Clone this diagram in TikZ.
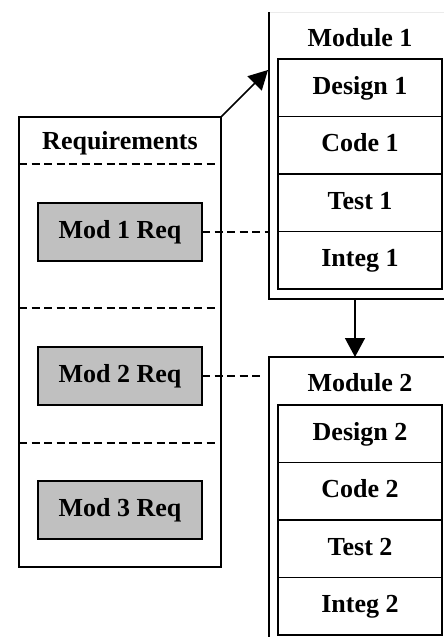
\documentclass[tikz,border=0pt]{standalone}
\usepackage{fontspec}
\setmainfont{Liberation Serif}
\usetikzlibrary{positioning,arrows.meta}
\definecolor{reqgray}{RGB}{192,192,192}
\tikzset{
  line/.style={-{Triangle[length=19pt,width=20pt]}, line width=1.5pt},
  frame/.style={draw, line width=1.5pt, outer sep=0pt, inner sep=0pt},
  box/.style={draw, line width=1.5pt, outer sep=0pt, align=center, text height=18pt, text depth=5pt, font=\fontsize{26}{30}\selectfont\bfseries},
  reqbox/.style={box, fill=reqgray, minimum width=164pt, minimum height=58pt},
  stepbox/.style={box, minimum width=164pt, minimum height=57.5pt},
  title/.style={font=\fontsize{26}{30}\selectfont\bfseries, inner sep=0pt},
  sep/.style={dash pattern=on 8pt off 4.5pt, line width=1.5pt}
}

\begin{document}
\begin{tikzpicture}[x=1pt, y=-1pt]
  \useasboundingbox (0,0) rectangle (444,637);
  \clip (0,0) rectangle (444,637);
  % requirements
  \node[frame, minimum width=202pt, minimum height=450pt, anchor=north west] (req) at (19,117) {};
  \node[title] (reqt) at (120,143) {Requirements};
  \draw[sep] (19,164) -- (217,164);
  \draw[sep] (19,308) -- (217,308);
  \draw[sep] (19,443) -- (217,443);
  \node[reqbox] (r1) at (120,232) {Mod 1 Req};
  \node[reqbox] (r2) at (120,376) {Mod 2 Req};
  \node[reqbox] (r3) at (120,510) {Mod 3 Req};
  % module 1
  \node[frame, draw=none, minimum width=182pt, minimum height=287pt, anchor=north west] (m1) at (269,12) {};
  \draw[black!8] (m1.north west) -- (m1.north east);
  \draw[line width=1.5pt] (m1.north west) -- (m1.south west) -- (m1.south east) -- (m1.north east);
  \node[title] (m1t) at (360,38) {Module 1};
  \node[stepbox, anchor=north] (d1) at (360,59) {Design 1};
  \node[stepbox, below=0pt of d1] (c1) {Code 1};
  \node[stepbox, below=0pt of c1] (t1) {Test 1};
  \node[stepbox, below=0pt of t1] (i1) {Integ 1};
  % module 2
  \node[frame, minimum width=182pt, minimum height=300pt, anchor=north west] (m2) at (269,357) {};
  \node[title] (m2t) at (360,383) {Module 2};
  \node[stepbox, anchor=north] (d2) at (360,405) {Design 2};
  \node[stepbox, below=0pt of d2] (c2) {Code 2};
  \node[stepbox, below=0pt of c2] (t2) {Test 2};
  \node[stepbox, below=0pt of t2] (i2) {Integ 2};
  % links
  \coordinate (m1in) at (268,70);
  \draw[line] (req.north east) -- (m1in);
  \draw[line] ([xshift=-5pt]m1.south) -- ([xshift=-5pt]m2.north);
  \draw[sep] (r1.east) -- (m1.west |- r1.east);
  \draw[sep] (r2.east) -- (264,376);
\end{tikzpicture}
\end{document}
